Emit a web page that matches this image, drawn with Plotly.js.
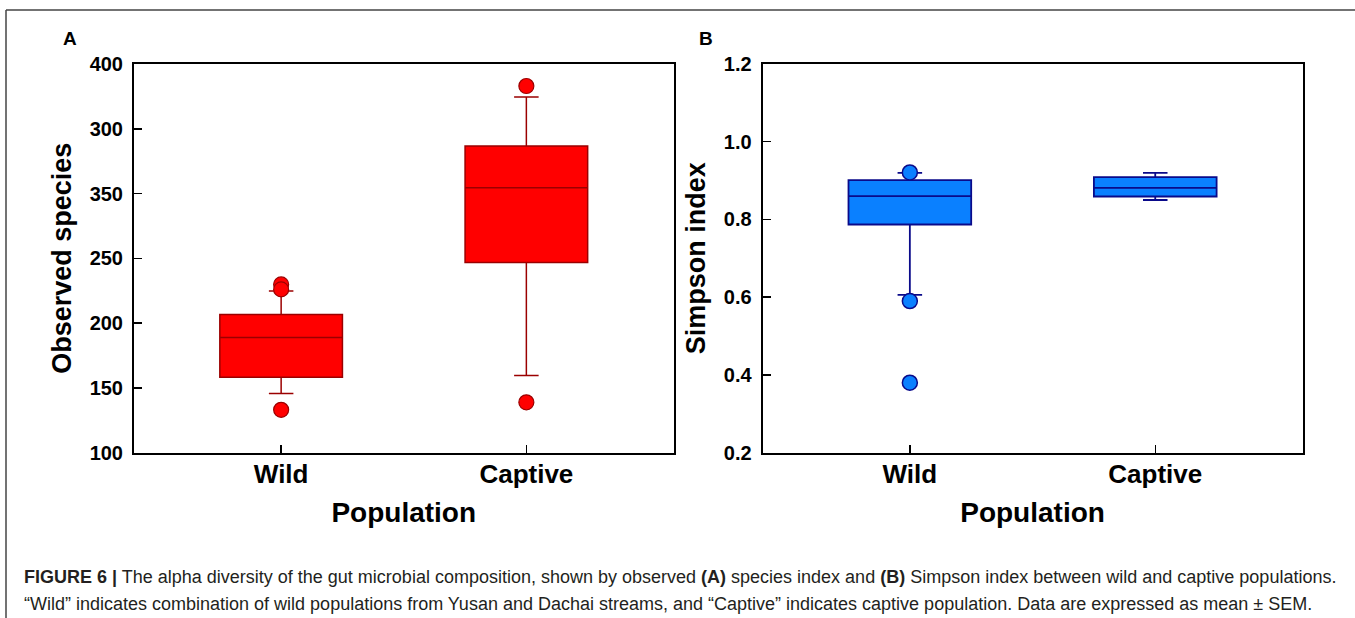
<!DOCTYPE html>
<html>
<head>
<meta charset="utf-8">
<script src="https://cdn.plot.ly/plotly-3.0.1.min.js"></script>
<style>
  html, body { margin: 0; padding: 0; background: #ffffff; }
  #chart { width: 1355px; height: 618px; }
</style>
</head>
<body>
<div id="chart"></div>
<script>
// ---- Data ----
const categories = ['Wild', 'Captive'];

// Panel A: Observed species
const speciesLowerWhisker = [145.7, 159.6];
const speciesQ1           = [158.2, 246.8];
const speciesMedian       = [188.8, 304.5];
const speciesQ3           = [206.6, 336.7];
const speciesUpperWhisker = [224.7, 374.5];
const speciesOutlierGroup = ['Wild', 'Wild', 'Wild', 'Captive', 'Captive'];
const speciesOutlierValue = [229.8, 226.0, 133.0, 383.0, 138.8];
const speciesTickValues   = [100, 150, 200, 250, 300, 350, 400];
const speciesTickLabels   = ['100', '150', '200', '250', '350', '300', '400'];

// Panel B: Simpson index
const simpsonLowerWhisker = [0.606, 0.850];
const simpsonQ1           = [0.787, 0.859];
const simpsonMedian       = [0.860, 0.881];
const simpsonQ3           = [0.901, 0.909];
const simpsonUpperWhisker = [0.920, 0.920];
const simpsonOutlierGroup = ['Wild', 'Wild', 'Wild'];
const simpsonOutlierValue = [0.921, 0.590, 0.380];
const simpsonTickValues   = [0.2, 0.4, 0.6, 0.8, 1.0, 1.2];
const simpsonTickLabels   = ['0.2', '0.4', '0.6', '0.8', '1.0', '1.2'];

const panelLabels = ['A', 'B'];
const xTitle = 'Population';
const yTitles = ['Observed species', 'Simpson index'];
const captionLine1 = '<b>FIGURE 6 |</b> The alpha diversity of the gut microbial composition, shown by observed <b>(A)</b> species index and <b>(B)</b> Simpson index between wild and captive populations.';
const captionLine2 = '\u201CWild\u201D indicates combination of wild populations from Yusan and Dachai streams, and \u201CCaptive\u201D indicates captive population. Data are expressed as mean \u00B1 SEM.';

// ---- Styles ----
const W = 1355, H = 618;
const FONT = 'Arial, "Liberation Sans", Helvetica, sans-serif';
const red = '#FF0000', redLine = '#9B0000';
const blue = '#0A80FF', blueLine = '#0A0A8A';

const traces = [
  {
    type: 'box', x: categories,
    q1: speciesQ1, median: speciesMedian, q3: speciesQ3,
    lowerfence: speciesLowerWhisker, upperfence: speciesUpperWhisker,
    boxpoints: false, width: 0.5, whiskerwidth: 0.2,
    fillcolor: red, line: { color: redLine, width: 1.5 },
    xaxis: 'x', yaxis: 'y', showlegend: false, hoverinfo: 'skip'
  },
  {
    type: 'scatter', mode: 'markers', x: speciesOutlierGroup, y: speciesOutlierValue,
    marker: { size: 15, color: red, line: { color: redLine, width: 1.2 } },
    xaxis: 'x', yaxis: 'y', showlegend: false, hoverinfo: 'skip'
  },
  {
    type: 'box', x: categories,
    q1: simpsonQ1, median: simpsonMedian, q3: simpsonQ3,
    lowerfence: simpsonLowerWhisker, upperfence: simpsonUpperWhisker,
    boxpoints: false, width: 0.5, whiskerwidth: 0.2,
    fillcolor: blue, line: { color: blueLine, width: 1.8 },
    xaxis: 'x2', yaxis: 'y2', showlegend: false, hoverinfo: 'skip'
  },
  {
    type: 'scatter', mode: 'markers', x: simpsonOutlierGroup, y: simpsonOutlierValue,
    marker: { size: 15, color: blue, line: { color: blueLine, width: 1.5 } },
    xaxis: 'x2', yaxis: 'y2', showlegend: false, hoverinfo: 'skip'
  }
];

const yDomain = [(H - 452.6) / H, (H - 64) / H];

function xAxis(domain, anchor) {
  return {
    domain: domain, anchor: anchor, type: 'category',
    categoryorder: 'array', categoryarray: categories,
    range: [-0.6, 1.6],
    showline: true, mirror: true, linecolor: '#000', linewidth: 2,
    ticks: 'inside', ticklen: 8, tickwidth: 1.5, tickcolor: '#000',
    showgrid: false, zeroline: false,
    tickfont: { family: FONT, size: 26, color: '#000', weight: 'bold' },
    ticklabelstandoff: -3,
    title: { text: xTitle, font: { family: FONT, size: 28, color: '#000', weight: 'bold' }, standoff: 15 }
  };
}
function yAxis(domain, anchor, range, tv, tt, title) {
  return {
    domain: domain, anchor: anchor, range: range,
    tickmode: 'array', tickvals: tv, ticktext: tt,
    showline: true, mirror: true, linecolor: '#000', linewidth: 2,
    ticks: 'inside', ticklen: 8, tickwidth: 1.5, tickcolor: '#000',
    showgrid: false, zeroline: false,
    tickfont: { family: FONT, size: 20, color: '#000', weight: 'bold' },
    ticklabelstandoff: 5,
    title: { text: title, font: { family: FONT, size: 27, color: '#000', weight: 'bold' }, standoff: 10 }
  };
}

const layout = {
  width: W, height: H,
  margin: { l: 0, r: 0, t: 0, b: 0 },
  paper_bgcolor: '#fff', plot_bgcolor: '#fff',
  showlegend: false,
  xaxis: xAxis([134 / W, 673.5 / W], 'y'),
  yaxis: yAxis(yDomain, 'x', [100, 400], speciesTickValues, speciesTickLabels, yTitles[0]),
  xaxis2: xAxis([762.6 / W, 1302.5 / W], 'y2'),
  yaxis2: yAxis(yDomain, 'x2', [0.2, 1.2], simpsonTickValues, simpsonTickLabels, yTitles[1]),
  shapes: [
    { type: 'line', xref: 'paper', yref: 'paper', x0: 6 / W, x1: 1, y0: 1 - 10 / H, y1: 1 - 10 / H, line: { color: '#444', width: 1.5 } },
    { type: 'line', xref: 'paper', yref: 'paper', x0: 6 / W, x1: 6 / W, y0: 1 - 10 / H, y1: 0, line: { color: '#444', width: 1.5 } }
  ],
  annotations: [
    { text: panelLabels[0], xref: 'paper', yref: 'paper', x: 70 / W, y: 1 - 39 / H, xanchor: 'center', yanchor: 'middle', showarrow: false,
      font: { family: FONT, size: 19, color: '#000', weight: 'bold' } },
    { text: panelLabels[1], xref: 'paper', yref: 'paper', x: 706 / W, y: 1 - 39 / H, xanchor: 'center', yanchor: 'middle', showarrow: false,
      font: { family: FONT, size: 19, color: '#000', weight: 'bold' } },
    { text: captionLine1, xref: 'paper', yref: 'paper', x: 22 / W, y: 1 - 577 / H, xanchor: 'left', yanchor: 'middle', showarrow: false, align: 'left',
      font: { family: FONT, size: 18, color: '#231F20' } },
    { text: captionLine2, xref: 'paper', yref: 'paper', x: 22 / W, y: 1 - 604 / H, xanchor: 'left', yanchor: 'middle', showarrow: false, align: 'left',
      font: { family: FONT, size: 18, color: '#231F20' } }
  ]
};

Plotly.newPlot('chart', traces, layout, { staticPlot: true, displayModeBar: false });
</script>
</body>
</html>
